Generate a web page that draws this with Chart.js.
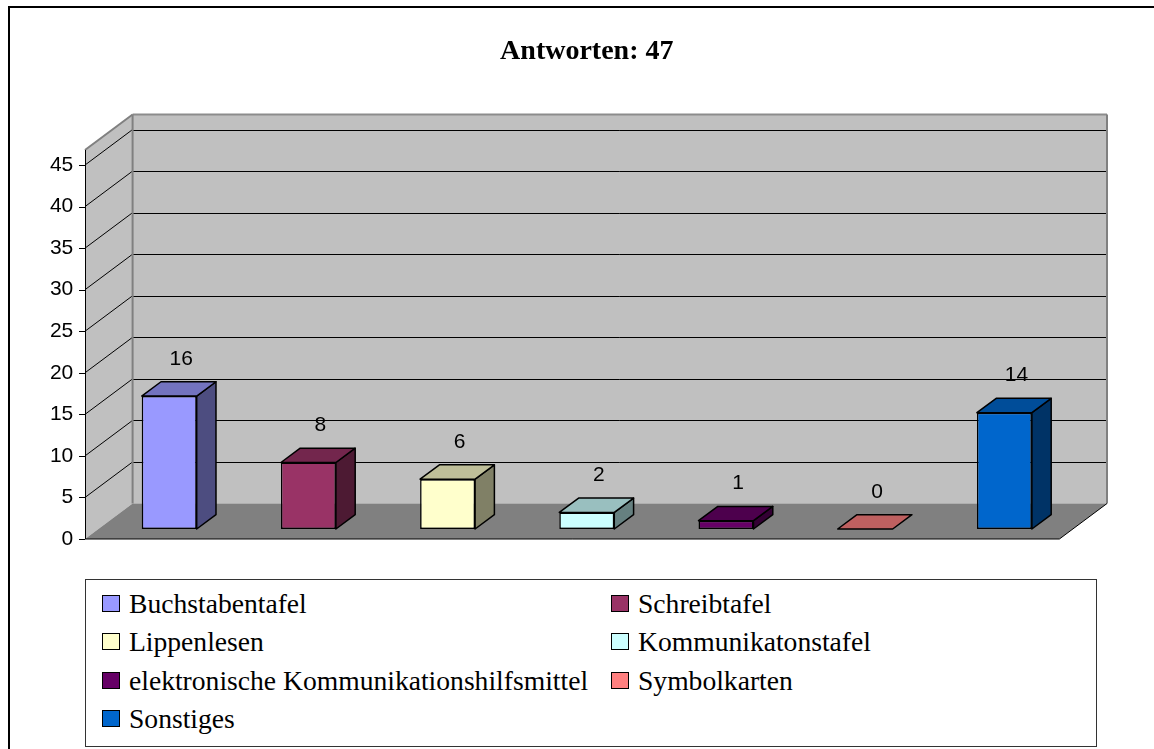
<!DOCTYPE html>
<html><head><meta charset="utf-8">
<script src="https://cdn.jsdelivr.net/npm/chart.js@4.4.1/dist/chart.umd.min.js"></script>
<style>
html,body{margin:0;padding:0;background:#fff;}
#wrap{position:relative;width:1154px;height:749px;overflow:hidden;background:#fff;}
#c{position:absolute;left:0;top:0;}
#frame{position:absolute;left:8px;top:6px;width:1200px;height:800px;border-left:2px solid #000;border-top:2px solid #000;pointer-events:none;}
#legend{position:absolute;left:85px;top:579px;width:1012px;height:168px;border:1px solid #333;box-sizing:border-box;font-family:'Liberation Serif','Times New Roman',serif;font-size:27.6px;color:#000;background:#fff;}
.item{position:absolute;height:38px;line-height:38px;white-space:nowrap;}
.sw{position:absolute;left:0;top:10px;width:18px;height:17px;border:1px solid #000;box-sizing:border-box;}
.tx{position:absolute;left:27px;top:0;}
</style></head>
<body>
<div id="wrap">
  <canvas id="c" width="1154" height="749"></canvas>
  <div id="legend"></div>
  <div id="frame"></div>
</div>
<script>
// ---- data ----
const categories = ['Buchstabentafel', 'Schreibtafel', 'Lippenlesen', 'Kommunikatonstafel',
  'elektronische Kommunikationshilfsmittel', 'Symbolkarten', 'Sonstiges'];
const counts = [16, 8, 6, 2, 1, 0, 14];
const yTicks = [0, 5, 10, 15, 20, 25, 30, 35, 40, 45];
const titleText = 'Antworten: 47';

// ---- styles ----
const frontColors = ['#9999FF', '#993366', '#FFFFCC', '#CCFFFF', '#660066', '#FF8080', '#0066CC'];
function shade(hex, f) {
  const n = parseInt(hex.slice(1), 16);
  const r = Math.round(((n >> 16) & 255) * f), g = Math.round(((n >> 8) & 255) * f), b = Math.round((n & 255) * f);
  return 'rgb(' + r + ',' + g + ',' + b + ')';
}
const sideColors = frontColors.map(c => shade(c, 0.5));
const topColors = frontColors.map(c => shade(c, 0.75));

const FRONT_OFF = {dx: -14.6};            // front plane relative to bar plane (x)
const WALL_DEPTH = {dx: 47.6, dy: -35.5}; // front plane -> back wall
const BAR_DEPTH = {dx: 19.3, dy: -14.3};
const LABEL_FONT = '21px "Liberation Sans", Arial, sans-serif';

function poly(ctx, pts, fill, stroke, lw) {
  ctx.beginPath();
  ctx.moveTo(pts[0][0], pts[0][1]);
  for (let i = 1; i < pts.length; i++) ctx.lineTo(pts[i][0], pts[i][1]);
  ctx.closePath();
  if (fill) { ctx.fillStyle = fill; ctx.fill(); }
  if (stroke) { ctx.strokeStyle = stroke; ctx.lineWidth = lw || 1; ctx.stroke(); }
}
function line(ctx, x1, y1, x2, y2, color, lw) {
  ctx.beginPath(); ctx.moveTo(x1, y1); ctx.lineTo(x2, y2);
  ctx.strokeStyle = color; ctx.lineWidth = lw || 1; ctx.stroke();
}

const threeD = {
  id: 'threeD',
  beforeDatasetsDraw(chart) {
    const ctx = chart.ctx, ca = chart.chartArea, yf = chart.scales.yf;
    const xf0 = ca.left + FRONT_OFF.dx, xf1 = ca.right + FRONT_OFF.dx;
    const xb0 = xf0 + WALL_DEPTH.dx, xb1 = xf1 + WALL_DEPTH.dx;
    const dy = WALL_DEPTH.dy;
    const Y = v => yf.getPixelForValue(v);
    const y0 = Y(0), yT = Y(yf.max);
    ctx.save();
    poly(ctx, [[xf0, y0], [xf0, yT], [xb0, yT + dy], [xb0, y0 + dy]], '#C0C0C0');
    poly(ctx, [[xb0, yT + dy], [xb1, yT + dy], [xb1, y0 + dy], [xb0, y0 + dy]], '#C0C0C0');
    poly(ctx, [[xf0, y0], [xf1, y0], [xb1, y0 + dy], [xb0, y0 + dy]], '#808080');
    yf.ticks.forEach(t => {
      if (t.value === 0) return;
      const yy = Y(t.value);
      line(ctx, xf0, yy, xb0, yy + dy, '#000', 1);
      line(ctx, xb0, Math.round(yy + dy) + 0.5, xb1, Math.round(yy + dy) + 0.5, '#000', 1);
    });
    // wall edges
    line(ctx, xf0, yT, xb0, yT + dy, '#808080', 2);
    line(ctx, xb0, yT + dy, xb1, yT + dy, '#8C8C8C', 2);
    line(ctx, xb1, yT + dy, xb1, y0 + dy, '#808080', 2);
    line(ctx, xb0, yT + dy, xb0, y0 + dy, '#808080', 2);
    // floor edges
    line(ctx, xf0, y0, xf1, y0, '#000', 1);
    line(ctx, xf1, y0, xb1, y0 + dy, '#000', 1);
    // front axis + tick marks
    line(ctx, Math.round(xf0) + 0.5, y0, Math.round(xf0) + 0.5, yT, '#000', 1);
    yf.ticks.forEach(t => {
      const yy = Math.round(Y(t.value)) + 0.5;
      line(ctx, xf0 - 6, yy, xf0, yy, '#000', 1);
    });
    ctx.restore();
  },
  afterDatasetsDraw(chart) {
    const ctx = chart.ctx;
    const meta = chart.getDatasetMeta(0);
    const vals = chart.data.datasets[0].data;
    ctx.save();
    ctx.lineJoin = 'round';
    meta.data.forEach((bar, i) => {
      const p = bar.getProps(['x', 'y', 'base', 'width'], true);
      const l = p.x - p.width / 2, r = p.x + p.width / 2;
      const top = Math.min(p.y, p.base), bot = Math.max(p.y, p.base);
      const dx = BAR_DEPTH.dx, dy = BAR_DEPTH.dy;
      if (bot - top > 0.5) {
        poly(ctx, [[r, top], [r + dx, top + dy], [r + dx, bot + dy], [r, bot]], sideColors[i], '#000', 1.5);
      }
      poly(ctx, [[l, top], [l + dx, top + dy], [r + dx, top + dy], [r, top]], topColors[i], '#000', 1.5);
      ctx.fillStyle = '#000';
      ctx.font = LABEL_FONT;
      ctx.textAlign = 'center';
      ctx.textBaseline = 'middle';
      ctx.fillText(String(vals[i]), p.x + 12, top - 37);
    });
    ctx.restore();
  }
};

const chart = new Chart(document.getElementById('c'), {
  type: 'bar',
  data: {
    labels: categories,
    datasets: [{
      label: titleText,
      data: counts,
      backgroundColor: frontColors,
      borderColor: '#000',
      borderWidth: 1.5,
      borderSkipped: false,
      barPercentage: 0.395,
      categoryPercentage: 1.0,
      xAxisID: 'x',
      yAxisID: 'y'
    }]
  },
  options: {
    responsive: false,
    animation: false,
    devicePixelRatio: 1,
    layout: {padding: {left: 10, right: 80, top: 0, bottom: 210}},
    plugins: {
      legend: {display: false},
      tooltip: {enabled: false},
      title: {
        display: true,
        fullSize: false,
        text: titleText,
        color: '#000',
        font: {family: '"Liberation Serif", "Times New Roman", serif', size: 28, weight: 'bold'},
        padding: {top: 35, bottom: 81.4}
      }
    },
    scales: {
      x: {display: false, offset: true, grid: {display: false}},
      y: {display: false, min: -1.2034, max: 45.607, grid: {display: false}},
      yf: {
        position: 'left',
        min: 0,
        max: 46.81,
        grid: {display: false, drawTicks: false},
        border: {display: false},
        ticks: {
          color: '#000',
          padding: 26.3,
          font: {family: '"Liberation Sans", Arial, sans-serif', size: 21}
        },
        afterBuildTicks: axis => { axis.ticks = yTicks.map(v => ({value: v})); },
        afterFit: axis => { axis.width = 89.6; }
      }
    }
  },
  plugins: [threeD]
});

// ---- HTML legend (two columns, row-major like the original) ----
const legend = document.getElementById('legend');
categories.forEach((name, i) => {
  const col = i % 2, row = Math.floor(i / 2);
  const it = document.createElement('div');
  it.className = 'item';
  it.style.left = (col === 0 ? 16 : 525) + 'px';
  it.style.top = (5 + row * 38.3) + 'px';
  const sw = document.createElement('div');
  sw.className = 'sw';
  sw.style.background = frontColors[i];
  const tx = document.createElement('span');
  tx.className = 'tx';
  tx.textContent = name;
  it.appendChild(sw); it.appendChild(tx);
  legend.appendChild(it);
});
</script>
</body></html>
